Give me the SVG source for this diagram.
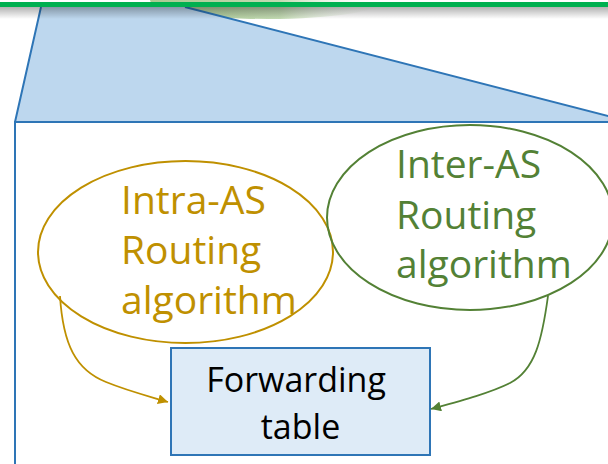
<svg xmlns="http://www.w3.org/2000/svg" width="608" height="464" viewBox="0 0 608 464">
  <defs>
    <style>
      .ell-text { font-family: "Open Sans", "Noto Sans", sans-serif; font-size: 39px; }
      .intra { fill: none; stroke: #BF9000; stroke-width: 2; }
      .inter { fill: none; stroke: #538135; stroke-width: 2; }
      .blue-line { stroke: #2E75B6; stroke-width: 2; fill: none; }
      .conn-gold { fill: none; stroke: #BF9000; stroke-width: 1.8; }
      .conn-green { fill: none; stroke: #538135; stroke-width: 1.8; }
    </style>
    <linearGradient id="greenFade" x1="0" y1="0" x2="1" y2="0">
      <stop offset="0" stop-color="#A9C992"/>
      <stop offset="0.55" stop-color="#C2DAB2"/>
      <stop offset="1" stop-color="#ffffff" stop-opacity="0"/>
    </linearGradient>
    <linearGradient id="shadow" x1="0" y1="0" x2="0" y2="1">
      <stop offset="0" stop-color="#000000" stop-opacity="0.3"/>
      <stop offset="1" stop-color="#000000" stop-opacity="0"/>
    </linearGradient>
    <marker id="arrowGold" markerUnits="userSpaceOnUse" markerWidth="10" markerHeight="10" viewBox="0 0 10 10" refX="10" refY="5" orient="auto">
      <path d="M0,0 L10,5 L0,10 Z" fill="#BF9000"/>
    </marker>
    <marker id="arrowGreen" markerUnits="userSpaceOnUse" markerWidth="10" markerHeight="10" viewBox="0 0 10 10" refX="10" refY="5" orient="auto">
      <path d="M0,0 L10,5 L0,10 Z" fill="#538135"/>
    </marker>
  </defs>

  <rect x="0" y="0" width="608" height="464" fill="#ffffff"/>

  <!-- top decoration -->
  <g id="header">
    <ellipse cx="268" cy="0" rx="118" ry="19" fill="url(#greenFade)"/>
    <polygon points="41,7 185,7 608,116 608,122 15,122" fill="#BDD7EE"/>
    <path class="blue-line" d="M15,122 L41,7 M185,7 L612,117"/>
    <rect x="0" y="7" width="608" height="12" fill="url(#shadow)"/>
    <rect x="0" y="2" width="608" height="5" fill="#00B050"/>
  </g>

  <!-- container -->
  <g id="container">
    <rect x="15" y="122" width="600" height="360" fill="#ffffff" stroke="#2E75B6" stroke-width="2"/>
  </g>

  <g id="intra-as">
    <ellipse class="intra" cx="185.5" cy="252" rx="147.5" ry="91"/>
    <text class="ell-text" fill="#BF9000">
      <tspan x="121" y="214">Intra-AS</tspan>
      <tspan x="121" y="264">Routing</tspan>
      <tspan x="121" y="314">algorithm</tspan>
    </text>
  </g>

  <g id="inter-as">
    <ellipse class="inter" cx="470" cy="217.5" rx="143" ry="92.5"/>
    <text class="ell-text" fill="#538135">
      <tspan x="396" y="178">Inter-AS</tspan>
      <tspan x="396" y="229">Routing</tspan>
      <tspan x="396" y="278">algorithm</tspan>
    </text>
  </g>

  <g id="forwarding-table">
    <rect x="171" y="348" width="259" height="107" fill="#DEEBF7" stroke="#2E75B6" stroke-width="2"/>
    <text font-family="'Open Sans', 'Noto Sans', sans-serif" font-size="34" fill="#000000" text-anchor="middle">
      <tspan x="300.5" y="392">Forwarding</tspan>
      <tspan x="300.5" y="439">table</tspan>
    </text>
  </g>

  <g id="connectors">
    <path class="conn-gold" d="M60,296 C63,345 76,370 106,382 C128,391 148,396 168,402" marker-end="url(#arrowGold)"/>
    <path class="conn-green" d="M548,296 C542,340 535,370 510,383 C490,393 460,401 431,409" marker-end="url(#arrowGreen)"/>
  </g>
</svg>
